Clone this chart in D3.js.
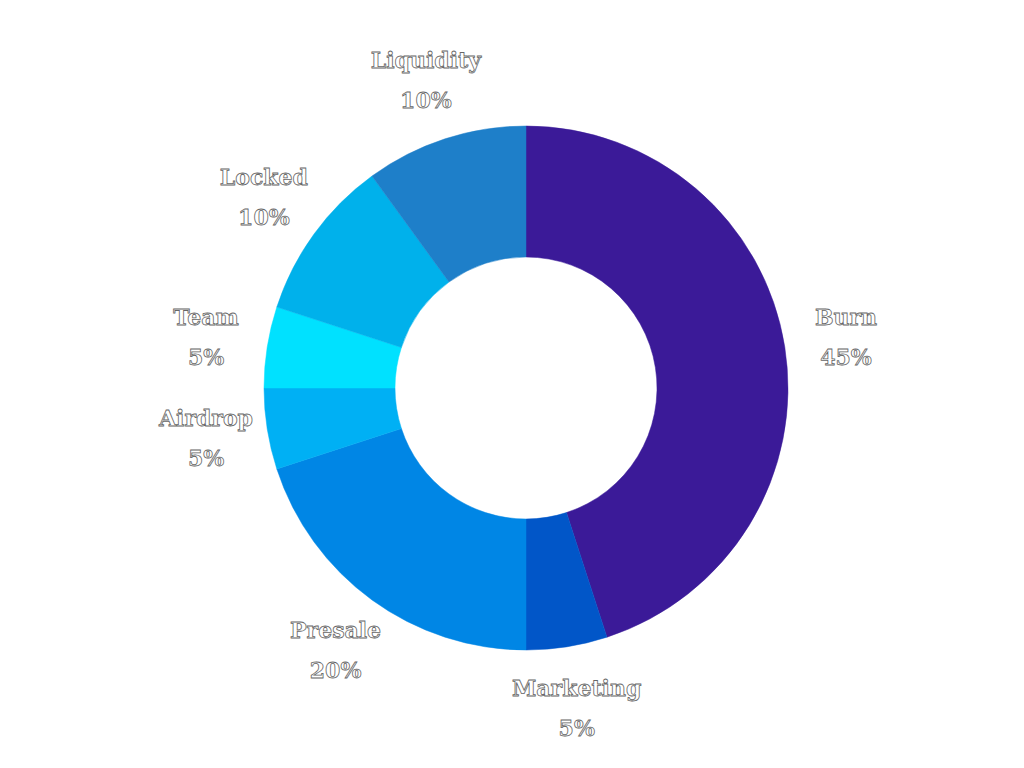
<!DOCTYPE html>
<html><head><meta charset="utf-8">
<script src="https://cdn.jsdelivr.net/npm/d3@7"></script>
<style>body{margin:0;background:#fff;} svg{display:block;}</style>
</head><body>
<svg id="chart" width="1024" height="768"></svg>
<script>
const categories = ["Burn","Marketing","Presale","Airdrop","Team","Locked","Liquidity"];
const values = [45,5,20,5,5,10,10];
const colors = ["#3b1a98","#0156c8","#0086e5","#00b0f4","#00e1ff","#00b1eb","#1e7fc9"];

const svg = d3.select("#chart");
const cx = 526, cy = 388, outerR = 262, innerR = 131, labelR = 324;
const g = svg.append("g").attr("transform",`translate(${cx},${cy})`);
const data = categories.map((c,i)=>({name:c,value:values[i],color:colors[i]}));
const pie = d3.pie().value(d=>d.value).sort(null);
const arcs = pie(data);
const arc = d3.arc().innerRadius(innerR).outerRadius(outerR);
const labelArc = d3.arc().innerRadius(labelR).outerRadius(labelR);
const total = d3.sum(values);

g.selectAll("path").data(arcs).join("path")
  .attr("d",arc).attr("fill",d=>d.data.color)
  .attr("stroke",d=>d.data.color).attr("stroke-width",0.5);

const lab = g.selectAll("g.lab").data(arcs).join("g").attr("class","lab")
  .attr("transform",d=>`translate(${labelArc.centroid(d)})`);
const textStyle = sel => sel.attr("text-anchor","middle")
  .attr("font-family","'DejaVu Serif', serif").attr("font-weight","bold")
  .attr("font-size",22).attr("fill","#ffffff").attr("stroke","#666")
  .attr("stroke-width",0.8);
lab.append("text").attr("y",-20).attr("dy","0.35em").text(d=>d.data.name).call(textStyle);
lab.append("text").attr("y",20).attr("dy","0.35em").text(d=>Math.round(d.data.value/total*100)+"%").call(textStyle);
</script>
</body></html>
